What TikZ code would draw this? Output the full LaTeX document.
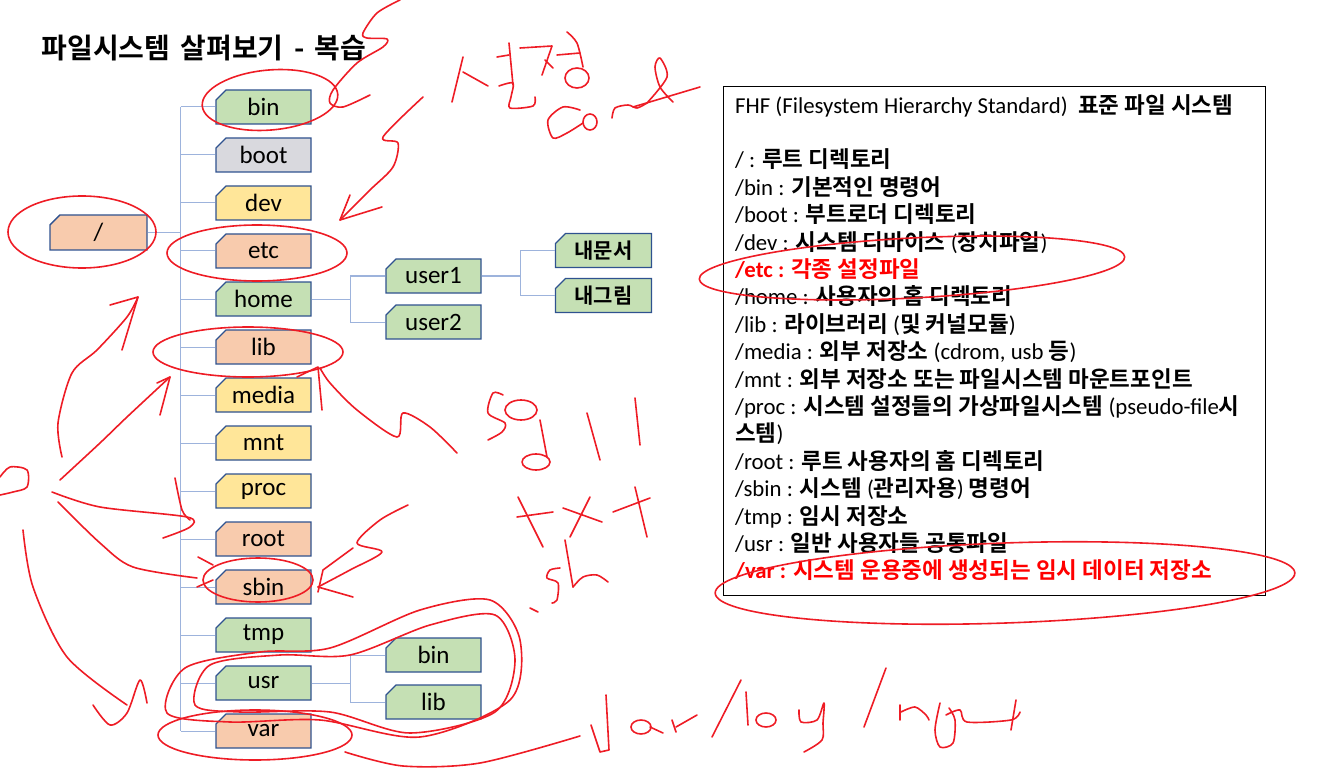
\documentclass[tikz,border=0pt]{standalone}
\usepackage{fontspec}
\setmainfont{Carlito}
\newfontfamily\krfont{Noto Sans CJK KR}[BoldFont={Noto Sans CJK KR Bold}]
\usetikzlibrary{shapes.misc}

\definecolor{boxgreen}{HTML}{C5E0B4}
\definecolor{boxgray}{HTML}{D9D9DE}
\definecolor{boxyellow}{HTML}{FFE699}
\definecolor{boxpeach}{HTML}{F8CBAD}
\definecolor{boxline}{HTML}{2F528F}
\definecolor{treeline}{HTML}{9DB3DC}
\definecolor{penred}{HTML}{EE1C25}
\definecolor{fhsred}{HTML}{FF0000}

\newcommand\kb[1]{{\krfont\bfseries\fontsize{22.5}{27.4}\selectfont #1}}

\tikzset{
  dirbox/.style={chamfered rectangle, chamfered rectangle corners=north west,
    chamfered rectangle sep=5pt, draw=boxline, line width=1.4pt,
    minimum width=95pt, minimum height=34pt, inner sep=0pt,
    font=\fontsize{25}{30}\selectfont},
  tree/.style={draw=treeline, line width=1pt},
  pen/.style={draw=penred, line width=1.6pt, line cap=round, line join=round},
}

\begin{document}
\begin{tikzpicture}[x=1pt,y=-1pt]
  \useasboundingbox (0,0) rectangle (1331,778);

  \node[anchor=west, font=\krfont\bfseries\fontsize{28}{32}\selectfont] (title) at (38,48)
    {파일시스템\hspace{4pt} 살펴보기\hspace{4pt} -\hspace{4pt} 복습};

  % tree
  \node[dirbox, fill=boxpeach, minimum width=97pt, minimum height=35pt] (slash) at (98.5,232.5) {/};
  \coordinate (trunk) at (180.5,232.5);
  \draw[tree] (slash.east) -- (trunk);
  \foreach \n/\c [count=\i from 0] in {bin/boxgreen, boot/boxgray, dev/boxyellow, etc/boxpeach,
      home/boxgreen, lib/boxpeach, media/boxyellow, mnt/boxyellow, proc/boxyellow,
      root/boxpeach, sbin/boxpeach, tmp/boxgreen, usr/boxgreen, var/boxpeach} {
    \node[dirbox, fill=\c] (\n) at (263.5,{107+48*\i}) {\n};
    \draw[tree] (\n.west -| trunk) -- (\n.west);
  }
  \draw[tree] (bin.west -| trunk) -- (var.west -| trunk);

  \node[dirbox, fill=boxgreen] (user1) at (433.5,276) {user1};
  \node[dirbox, fill=boxgreen] (user2) at (433.5,322) {user2};
  \coordinate (hfork) at (350,299);
  \draw[tree] (home.east) -- (hfork);
  \draw[tree] (user1.west -| hfork) -- (user2.west -| hfork);
  \foreach \n in {user1,user2} \draw[tree] (\n.west -| hfork) -- (\n.west);

  \node[dirbox, fill=boxgreen, minimum width=96pt, font=\krfont\bfseries\fontsize{21}{26}\selectfont] (mydoc) at (603.5,250.5) {내문서};
  \node[dirbox, fill=boxgreen, minimum width=96pt, font=\krfont\bfseries\fontsize{21}{26}\selectfont] (mypic) at (603.5,295.5) {내그림};
  \coordinate (ufork) at (520,276);
  \draw[tree] (user1.east) -- (ufork);
  \draw[tree] (mydoc.west -| ufork) -- (mypic.west -| ufork);
  \foreach \n in {mydoc,mypic} \draw[tree] (\n.west -| ufork) -- (\n.west);

  \node[dirbox, fill=boxgreen] (ubin) at (433.5,655) {bin};
  \node[dirbox, fill=boxgreen] (ulib) at (433.5,702) {lib};
  \coordinate (sfork) at (350,683);
  \draw[tree] (usr.east) -- (sfork);
  \draw[tree] (ubin.west -| sfork) -- (ulib.west -| sfork);
  \foreach \n in {ubin,ulib} \draw[tree] (\n.west -| sfork) -- (\n.west);

  % FHS box
  \node[draw, line width=0.8pt, minimum width=542pt, minimum height=509pt, inner sep=0pt,
    anchor=north west] (fhs) at (723,86) {};
  \node[anchor=north west, align=left, inner sep=0pt, font=\fontsize{22.8}{27.4}\selectfont]
    (fhstext) at ([xshift=12pt,yshift=-8pt]fhs.north west) {%
    FHF (Filesystem Hierarchy Standard)~ \kb{표준 파일 시스템}\\[27.4pt]
    / : \kb{루트 디렉토리}\\
    /bin : \kb{기본적인 명령어}\\
    /boot : \kb{부트로더 디렉토리}\\
    /dev : \kb{시스템 디바이스} (\kb{장치파일})\\
    {\color{fhsred}\bfseries /etc : \kb{각종 설정파일}}\\
    /home : \kb{사용자의 홈 디렉토리}\\
    /lib : \kb{라이브러리} (\kb{및 커널모듈})\\
    /media : \kb{외부 저장소} (cdrom, usb \kb{등})\\
    /mnt : \kb{외부 저장소 또는 파일시스템 마운트포인트}\\
    /proc : \kb{시스템 설정들의 가상파일시스템} (pseudo-file\kb{시}\\
    \kb{스템})\\
    /root : \kb{루트 사용자의 홈 디렉토리}\\
    /sbin : \kb{시스템} (\kb{관리자용}) \kb{명령어}\\
    /tmp : \kb{임시 저장소}\\
    /usr : \kb{일반 사용자들 공통파일}\\
    {\color{fhsred}\bfseries /var : \kb{시스템 운용중에 생성되는 임시 데이터 저장소}}};

  % red pen loops
  \draw[pen] (82,232) ellipse [x radius=74, y radius=36];
  \draw[pen, rotate around={5:(270,100)}] (270,100) ellipse [x radius=68, y radius=30];
  \draw[pen] (257,253) ellipse [x radius=90, y radius=28];
  \draw[pen] (248,352) ellipse [x radius=95, y radius=25];
  \draw[pen] (258,580) ellipse [x radius=55, y radius=22];
  \draw[pen] (255,735) ellipse [x radius=97, y radius=25];
  \draw[pen] plot[smooth cycle] coordinates {(167,713) (185,668) (260,652) (330,648) (420,610)
    (490,600) (520,640) (510,700) (420,737) (320,720) (230,722)};
  \draw[pen] plot[smooth cycle] coordinates {(195,705) (210,665) (280,655) (350,655) (430,625)
    (495,615) (515,660) (495,712) (410,733) (330,712) (240,712)};
  \draw[pen, rotate around={3:(912,268)}] (912,268) ellipse [x radius=213, y radius=30];
  \draw[pen, rotate around={2:(1005,583)}] (1005,583) ellipse [x radius=290, y radius=40];

  % red pen arrows
  \draw[pen] plot[smooth] coordinates {(400,0) (377,13) (363,33) (367,38) (387,39) (383,47)
    (357,63) (333,90) (330,103) (343,107) (370,95)};
  \draw[pen] plot[smooth] coordinates {(423,97) (383,137) (398,143) (393,167) (370,190) (340,220)};
  \draw[pen] (350,195) -- (340,220) -- (382,207);
  \draw[pen] plot[smooth] coordinates {(457,453) (430,427) (403,413) (397,437) (357,410) (330,383) (320,368)};
  \draw[pen] (297,377) -- (318,367) -- (322,410);
  \draw[pen] plot[smooth] coordinates {(408,505) (380,520) (357,543) (382,552) (350,570) (318,587)};
  \draw[pen] (318,587) -- (353,597);
  \draw[pen] (353,548) -- (323,570) -- (318,592);
  \draw[pen] plot[smooth] coordinates {(0,477) (10,467) (27,470) (27,487) (13,492) (0,495)};
  \draw[pen] plot[smooth] coordinates {(62,457) (58,423) (72,373) (97,350) (127,317) (138,297)};
  \draw[pen] (110,305) -- (138,297) -- (122,350);
  \draw[pen] plot[smooth] coordinates {(60,480) (100,443) (127,417) (170,377)};
  \draw[pen] (157,383) -- (170,377) -- (160,415);
  \draw[pen] plot[smooth] coordinates {(52,492) (100,507) (187,517) (190,527) (163,538)};
  \draw[pen] plot[smooth] coordinates {(175,478) (182,510) (190,520)};
  \draw[pen] plot[smooth] coordinates {(58,502) (100,543) (133,567) (197,578)};
  \draw[pen] (198,557) -- (213,565);
  \draw[pen] (197,587) -- (213,580);
  \draw[pen] plot[smooth] coordinates {(23,530) (33,587) (67,657) (127,705)};
  \draw[pen] plot[smooth] coordinates {(93,705) (110,725) (127,713) (140,680) (147,703)};

  % red pen writing: seoljeong conf
  \draw[pen] (463,57) -- (452,102);
  \draw[pen] (463,72) -- (488,86);
  \draw[pen] (497,57) -- (509,55);
  \draw[pen] (509,43) -- (513,85);
  \draw[pen] plot[smooth] coordinates {(499,86) (513,83) (511,97) (510,108) (533,106) (535,97)};
  \draw[pen] (520,48) -- (552,46) -- (542,75);
  \draw[pen] (545,60) -- (553,68);
  \draw[pen] plot[smooth] coordinates {(567,32) (577,43) (583,67)};
  \draw[pen] (557,55) -- (580,53);
  \draw[pen] (577,78) ellipse [x radius=12, y radius=10];
  \draw[pen] plot[smooth] coordinates {(580,110) (563,107) (548,120) (553,138) (567,133) (583,123)};
  \draw[pen] (590,122) ellipse [x radius=7, y radius=8];
  \draw[pen] plot[smooth] coordinates {(612,118) (615,108) (628,105) (637,108) (647,103)};
  \draw[pen] plot[smooth] coordinates {(647,103) (667,77) (660,58) (655,67) (660,87) (673,102)};
  \draw[pen] (633,107) -- (700,87);

  % red pen writing: middle
  \draw[pen] plot[smooth] coordinates {(503,395) (493,393) (488,413) (505,423) (502,432) (488,440)};
  \draw[pen] (521,410) ellipse [x radius=16, y radius=10];
  \draw[pen] (540,420) -- (547,457);
  \draw[pen] (536,462) ellipse [x radius=14, y radius=8];
  \draw[pen] (587,413) -- (600,460);
  \draw[pen] (635,398) -- (640,445);
  \draw[pen] (518,497) -- (543,547);
  \draw[pen] (517,517) -- (553,512);
  \draw[pen] (590,497) -- (570,537);
  \draw[pen] (563,508) -- (602,522);
  \draw[pen] (635,487) -- (647,537);
  \draw[pen] (613,512) -- (650,498);
  \draw[pen] plot[smooth] coordinates {(560,568) (550,570) (547,578) (558,583) (557,600) (552,603)};
  \draw[pen] (565,540) -- (573,587);
  \draw[pen] plot[smooth] coordinates {(573,587) (583,577) (597,575) (608,582)};
  \draw[pen] (530,608) -- (538,612);

  % red pen writing: var/log/nginx
  \draw[pen] plot[smooth] coordinates {(345,752) (403,766) (480,763) (580,736)};
  \draw[pen] (591,725) -- (600,752) -- (609,750) -- (606,695);
  \draw[pen] (641,727) ellipse [x radius=10, y radius=7];
  \draw[pen] (650,727) -- (663,733);
  \draw[pen] (672,720) -- (676,732);
  \draw[pen] (676,727) -- (697,715);
  \draw[pen] (741,680) -- (712,737);
  \draw[pen] (746,692) -- (748,725);
  \draw[pen] (766,720) ellipse [x radius=10, y radius=7];
  \draw[pen] plot[smooth] coordinates {(799,710) (801,722) (817,720) (824,703) (823,723) (822,740) (804,752)};
  \draw[pen] (886,668) -- (864,727);
  \draw[pen] (900,705) -- (900,720);
  \draw[pen] plot[smooth] coordinates {(901,712) (915,707) (926,715) (929,720)};
  \draw[pen] plot[smooth] coordinates {(940,703) (935,730) (940,747) (953,743) (955,720) (949,708)};
  \draw[pen] plot[smooth] coordinates {(946,715) (960,710) (967,722) (1011,720) (1020,712)};
  \draw[pen] (1016,700) -- (1011,730);
\end{tikzpicture}
\end{document}
